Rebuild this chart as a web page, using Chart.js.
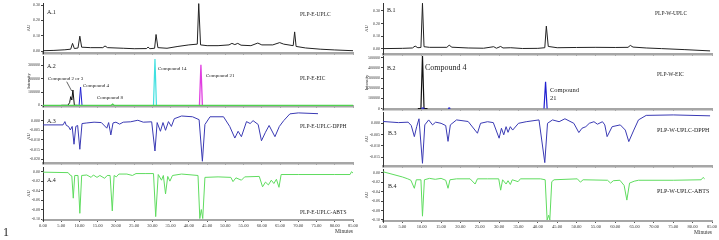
<!DOCTYPE html>
<html>
<head>
<meta charset="utf-8">
<script src="https://cdn.jsdelivr.net/npm/chart.js@4.4.0/dist/chart.umd.min.js"></script>
<style>
body { margin: 0; width: 719px; height: 240px; overflow: hidden; background: #fff; position: relative; }
canvas { position: absolute; }
</style>
</head>
<body>
<script>
// x axis (minutes) shared by every panel
const xTicks = [0, 5, 10, 15, 20, 25, 30, 35, 40, 45, 50, 55, 60, 65, 70, 75, 80, 85];

// y tick values per panel
const a1Ticks = [0, 0.1, 0.2, 0.3];
const a2Ticks = [0, 100000, 200000, 300000];
const a3Ticks = [0, -0.005, -0.01, -0.015, -0.02];
const a4Ticks = [0, -0.02, -0.04, -0.06, -0.08, -0.1];
const b1Ticks = [0, 0.1, 0.2, 0.3];
const b2Ticks = [0, 100000, 200000, 300000, 400000, 500000];
const b3Ticks = [0, -0.005, -0.01, -0.015];
const b4Ticks = [0, -0.02, -0.04, -0.06, -0.08, -0.1];

// traces as [minute, value] pairs
const a1Uplc = [[0,0.002],[3,0.004],[6,0.008],[7.6,0.012],[8.1,0.05],[8.6,0.016],[9.6,0.02],[10.1,0.097],[10.6,0.025],
  [13,0.022],[16.4,0.022],[17,0.033],[17.7,0.022],[22,0.018],[25,0.015],[28.4,0.016],[28.8,0.026],[29.3,0.015],
  [30.6,0.018],[31,0.108],[31.5,0.022],[34,0.018],[37,0.03],[40,0.04],[42.3,0.045],[42.7,0.31],[43.2,0.04],
  [45,0.035],[48,0.035],[51,0.04],[51.8,0.05],[52.6,0.042],[53.4,0.05],[54.3,0.038],[57,0.035],[58.9,0.052],
  [60,0.04],[63,0.04],[64.9,0.055],[66,0.045],[68.6,0.035],[69,0.125],[69.4,0.03],[72,0.02],[76,0.012],[80,0.007],[85,0.002]];

const a2Black = [[5,0],[6.8,0],[7.3,20000],[7.6,65000],[7.9,40000],[8.2,115000],[8.6,0],[9.5,0]];
const a2Blue = [[9.9,0],[10.3,137000],[10.7,0]];
const a2Green = [[0,0],[18.7,0],[19.1,9000],[19.5,0],[85,0]];
const a2Cyan = [[30.3,0],[30.7,348000],[31.1,0]];
const a2Magenta = [[42.9,0],[43.3,305000],[43.7,0]];

const a3Dpph = [[0,-0.0022],[5.5,-0.0022],[6,-0.0005],[6.4,-0.0025],[7,-0.003],[7.5,-0.0048],[8,-0.003],[8.5,-0.0122],
  [9,-0.003],[9.5,-0.0025],[10.1,-0.0148],[10.7,-0.0015],[12,-0.0012],[14,-0.0008],[16,-0.001],[17.5,-0.0039],
  [18,-0.001],[18.6,-0.0074],[19.2,-0.0012],[20,-0.0008],[21,-0.0018],[22,-0.0008],[24,-0.0006],[26,0.0002],
  [27.5,-0.0008],[29.8,-0.0006],[30.7,-0.0157],[31.3,-0.001],[32.2,-0.0055],[32.9,-0.001],[33.6,-0.005],
  [34.4,-0.0005],[35.2,-0.003],[36,0.001],[38,0.0024],[41,0.002],[42.8,0.0005],[43.7,-0.021],[44.4,-0.002],
  [45.8,0.002],[49.5,0.002],[51.2,-0.003],[52.6,-0.009],[53.5,-0.0055],[54.4,-0.0083],[55.8,-0.0005],
  [56.8,-0.0015],[57.6,0],[59,-0.002],[59.9,-0.0104],[61,-0.006],[62,-0.0025],[63.6,-0.0083],[64.8,-0.003],
  [66,0],[67.7,0.0035],[70,0.004],[75.4,0.0036]];

const a4Abts = [[0,-0.001],[6.9,-0.002],[7.4,-0.007],[7.9,-0.009],[8.3,-0.056],[8.7,-0.008],[9.6,-0.008],[10.1,-0.088],
  [10.6,-0.008],[12,-0.007],[13.2,-0.012],[13.8,-0.007],[14.8,-0.012],[15.6,-0.008],[16.9,-0.014],[17.6,-0.008],
  [18.4,-0.008],[19,-0.083],[19.5,-0.008],[20.1,-0.011],[20.8,-0.005],[23,-0.005],[24.5,-0.008],[25.5,-0.004],
  [28,-0.004],[30.3,-0.004],[30.9,-0.095],[31.6,-0.006],[32.5,-0.018],[33,-0.008],[33.6,-0.047],[34.2,-0.01],
  [34.8,-0.02],[35.5,-0.008],[38,-0.005],[42.5,-0.008],[43,-0.099],[43.4,-0.08],[43.8,-0.099],[44.4,-0.012],
  [48,-0.011],[51.5,-0.012],[52.1,-0.021],[52.9,-0.013],[54.4,-0.018],[55.3,-0.011],[59.3,-0.01],[60.2,-0.032],
  [61,-0.022],[61.8,-0.028],[62.6,-0.018],[63.3,-0.025],[64,-0.016],[64.7,-0.033],[65.3,-0.006],[70,-0.006],
  [80,-0.006],[84.2,-0.006],[84.6,0],[85,-0.003]];

const b1Uplc = [[0,0.003],[5,0.005],[7.6,0.008],[8.3,0.023],[9,0.01],[9.8,0.012],[10.2,0.36],[10.6,0.018],[12,0.013],
  [16.5,0.013],[17.1,0.03],[17.8,0.014],[22,0.008],[26,0.006],[28.6,0.018],[29.3,0.006],[30.4,0.02],[31,0.008],
  [33,0.01],[36,0.004],[40,0.005],[41.8,0.01],[42.2,0.18],[42.7,0.02],[45,0.01],[50,0.012],[55,0.013],[60,0.012],
  [63.3,0.013],[63.9,0.028],[64.6,0.015],[68,0.008],[72,0.003],[78,-0.005],[84.5,-0.015]];

const b2Black = [[9,0],[9.8,0],[10.2,520000],[10.6,0],[11.5,0]];
const b2Blue = [[9.9,0],[10.3,5000],[10.7,0],[12,null],[16.8,0],[17.1,6000],[17.4,0],[30,null],[41.6,0],[42,264000],[42.4,0]];

const b3Dpph = [[0,0.0008],[4,0.0003],[6.5,0.0005],[7.3,-0.001],[8.1,-0.0059],[8.7,-0.0015],[9.3,0.002],[10.2,-0.0177],
  [10.8,-0.0007],[11.8,0.0015],[12.8,-0.0007],[13.6,0.0005],[15,0],[16.2,-0.001],[16.8,-0.008],[17.4,-0.0007],
  [19,0.0015],[22,0.0008],[24.4,-0.0044],[25.2,0],[27,0.0007],[28.5,0.0003],[30,-0.0066],[30.6,-0.0022],
  [31.2,-0.0051],[31.8,-0.0015],[32.3,-0.004],[32.9,-0.0015],[33.5,-0.003],[35,0],[37,0.0007],[40.3,0.0015],
  [41.8,-0.0174],[42.5,0],[43.8,0.0015],[45.5,0.0007],[47,0.002],[49.3,0],[50.6,-0.0041],[51.4,-0.0022],
  [52.4,-0.0015],[53.3,0],[54.5,0.0007],[55.4,-0.0004],[56.7,0.0007],[57.3,-0.0007],[57.9,-0.0059],[59.2,-0.0015],
  [61.3,-0.0007],[62.6,-0.003],[63.5,-0.0081],[64.8,-0.003],[66,0.0015],[68,0.0035],[75,0.0037],[84.5,0.0033]];

const b4Abts = [[0,0.002],[5,-0.009],[6.4,-0.013],[7.2,-0.016],[8.1,-0.033],[8.6,-0.015],[9.8,-0.015],[10.2,-0.092],
  [10.7,-0.015],[12,-0.012],[13.5,-0.014],[15,-0.012],[16.2,-0.016],[16.8,-0.033],[17.3,-0.015],[19,-0.013],
  [22.5,-0.013],[23.8,-0.024],[24.4,-0.013],[27,-0.013],[29.9,-0.013],[30.4,-0.037],[30.9,-0.015],[31.8,-0.024],
  [32.3,-0.017],[32.9,-0.025],[33.4,-0.015],[34.9,-0.019],[35.5,-0.013],[40.7,-0.013],[41.9,-0.015],[42.4,-0.1],
  [42.8,-0.09],[43.1,-0.1],[43.6,-0.019],[44.2,-0.015],[50.2,-0.013],[51,-0.02],[51.7,-0.015],[58,-0.016],
  [58.8,-0.022],[59.5,-0.017],[61.2,-0.016],[62.3,-0.027],[63,-0.058],[63.7,-0.022],[64.9,-0.018],[66,-0.016],
  [75,-0.016],[82.2,-0.015],[82.7,-0.01],[83.1,-0.013]];

const serif = '"Liberation Serif", "DejaVu Serif", serif';

// draws panel labels / annotations given in page pixels
const notesPlugin = {
  id: 'notes',
  afterDraw(chart, args, opts) {
    const ctx = chart.ctx;
    ctx.save();
    ctx.fillStyle = '#222';
    ctx.textBaseline = 'middle';
    (opts.texts || []).forEach(t => {
      ctx.font = `${t.size}px ${serif}`;
      ctx.textAlign = t.align || 'left';
      ctx.fillText(t.text, t.x - opts.left, t.y - opts.top);
    });
    ctx.strokeStyle = '#222';
    ctx.lineWidth = 0.7;
    (opts.lines || []).forEach(l => {
      ctx.beginPath();
      ctx.moveTo(l[0] - opts.left, l[1] - opts.top);
      ctx.lineTo(l[2] - opts.left, l[3] - opts.top);
      ctx.stroke();
    });
    ctx.restore();
  }
};

function panel(cfg) {
  const c = document.createElement('canvas');
  c.width = cfg.w;
  c.height = cfg.h;
  c.style.left = cfg.left + 'px';
  c.style.top = cfg.top + 'px';
  document.body.appendChild(c);

  new Chart(c, {
    type: 'line',
    data: {
      datasets: cfg.series.map(s => ({
        data: s.data.map(p => ({ x: p[0], y: p[1] })),
        borderColor: s.color,
        borderWidth: s.width || 1,
        pointRadius: 0,
        fill: false,
        tension: 0,
        spanGaps: false
      }))
    },
    options: {
      responsive: false,
      animation: false,
      layout: { padding: { left: cfg.padL, right: cfg.padR, top: 4, bottom: cfg.bottom ? 1 : 4 } },
      plugins: {
        legend: { display: false },
        tooltip: { enabled: false },
        notes: { left: cfg.left, top: cfg.top, texts: cfg.texts, lines: cfg.lines }
      },
      scales: {
        x: {
          type: 'linear',
          min: 0,
          max: 85,
          afterBuildTicks: s => { s.ticks = xTicks.map(v => ({ value: v })); },
          afterFit: s => { s.height = cfg.bottom ? 15 : 0; },
          grid: { display: cfg.bottom, drawOnChartArea: false, tickLength: 2, color: '#555' },
          border: { color: '#a6a6a6', width: cfg.bottom ? 2 : 2.5 },
          ticks: {
            display: cfg.bottom, autoSkip: false, maxRotation: 0, padding: 1, color: '#333',
            font: { family: serif, size: 4.5 },
            callback: v => v.toFixed(2)
          },
          title: { display: cfg.bottom, text: 'Minutes', align: 'end', color: '#333', padding: 0, font: { family: serif, size: 5.5 } }
        },
        y: {
          min: cfg.yMin,
          max: cfg.yMax,
          afterBuildTicks: s => { s.ticks = cfg.yTicks.map(v => ({ value: v })); },
          afterFit: s => { s.width = cfg.yw; },
          grid: { drawOnChartArea: false, tickLength: 2, color: '#444' },
          border: { color: '#333', width: 1 },
          ticks: {
            padding: 1, color: '#333', font: { family: serif, size: 4 },
            callback: v => v.toFixed(cfg.digits)
          },
          title: { display: true, text: cfg.yTitle, color: '#333', padding: 0, font: { family: serif, size: 4.5 } }
        }
      }
    },
    plugins: [notesPlugin]
  });
}

const leftCol = { left: 0, w: 370, padL: 26, yw: 17, padR: 17 };
const rightCol = { left: 340, w: 380, padL: 24, yw: 19, padR: 8 };

// ---- left column ----
panel(Object.assign({}, leftCol, {
  top: -1, h: 58, yMin: -0.013, yMax: 0.314, yTicks: a1Ticks, digits: 2, yTitle: 'AU',
  series: [{ data: a1Uplc, color: '#222' }],
  texts: [{ text: 'A.1', x: 47, y: 12.7, size: 6 }, { text: 'PLP-E-UPLC', x: 300, y: 15, size: 5.5 }]
}));

panel(Object.assign({}, leftCol, {
  top: 52, h: 58, yMin: -5000, yMax: 370000, yTicks: a2Ticks, digits: 0, yTitle: 'Intensity',
  series: [
    { data: a2Green, color: '#4fd24f', width: 1.2 },
    { data: a2Black, color: '#111' },
    { data: a2Blue, color: '#2020d0' },
    { data: a2Cyan, color: '#3fe0e0', width: 1.2 },
    { data: a2Magenta, color: '#e03ee0', width: 1.3 }
  ],
  texts: [
    { text: 'A.2', x: 47, y: 66.7, size: 6 },
    { text: 'Compound 2 or 3', x: 48, y: 78.3, size: 5 },
    { text: 'Compound 4', x: 83, y: 85.7, size: 5 },
    { text: 'Compound 8', x: 97, y: 97.7, size: 5 },
    { text: 'Compound 14', x: 158, y: 69, size: 5 },
    { text: 'Compound 21', x: 206, y: 75.7, size: 5 },
    { text: 'PLP-E-EIC', x: 300, y: 79, size: 5.5 }
  ],
  lines: [[66.7, 81.7, 71.7, 91]]
}));

panel(Object.assign({}, leftCol, {
  top: 106, h: 61, yMin: -0.0219, yMax: 0.0055, yTicks: a3Ticks, digits: 3, yTitle: 'AU',
  series: [{ data: a3Dpph, color: '#3a3ab4' }],
  texts: [{ text: 'A.3', x: 47, y: 121, size: 6 }, { text: 'PLP-E-UPLC-DPPH', x: 300, y: 126.7, size: 5.5 }]
}));

panel(Object.assign({}, leftCol, {
  top: 163, h: 73, bottom: true, yMin: -0.1021, yMax: 0.0099, yTicks: a4Ticks, digits: 2, yTitle: 'AU',
  series: [{ data: a4Abts, color: '#5fdc5f' }],
  texts: [
    { text: 'A.4', x: 47, y: 180, size: 6 },
    { text: 'PLP-E-UPLC-ABTS', x: 300, y: 212.7, size: 5.5 },
    { text: '1', x: 3, y: 233, size: 12 }
  ]
}));

// ---- right column ----
panel(Object.assign({}, rightCol, {
  top: -1, h: 59, yMin: -0.0394, yMax: 0.362, yTicks: b1Ticks, digits: 2, yTitle: 'AU',
  series: [{ data: b1Uplc, color: '#222' }],
  texts: [{ text: 'B.1', x: 387, y: 10.7, size: 6 }, { text: 'PLP-W-UPLC', x: 655, y: 14, size: 5.5 }]
}));

panel(Object.assign({}, rightCol, {
  top: 52, h: 61, yMin: -4900, yMax: 517000, yTicks: b2Ticks, digits: 0, yTitle: 'Intensity',
  series: [
    { data: b2Blue, color: '#2020d0', width: 1.2 },
    { data: b2Black, color: '#111', width: 1.2 }
  ],
  texts: [
    { text: 'B.2', x: 387, y: 68, size: 6 },
    { text: 'Compound 4', x: 425, y: 68.3, size: 8 },
    { text: 'Compound', x: 550, y: 90, size: 6.5 },
    { text: '21', x: 550, y: 98.3, size: 6.5 },
    { text: 'PLP-W-EIC', x: 657, y: 75, size: 5.5 }
  ]
}));

panel(Object.assign({}, rightCol, {
  top: 108, h: 62, yMin: -0.0189, yMax: 0.005, yTicks: b3Ticks, digits: 3, yTitle: 'AU',
  series: [{ data: b3Dpph, color: '#3a3ab4' }],
  texts: [{ text: 'B.3', x: 388, y: 133.3, size: 6 }, { text: 'PLP-W-UPLC-DPPH', x: 657, y: 130.7, size: 6 }]
}));

panel(Object.assign({}, rightCol, {
  top: 165, h: 72, bottom: true, yMin: -0.1022, yMax: 0.0078, yTicks: b4Ticks, digits: 2, yTitle: 'AU',
  series: [{ data: b4Abts, color: '#5fdc5f' }],
  texts: [{ text: 'B.4', x: 388, y: 186.7, size: 6 }, { text: 'PLP-W-UPLC-ABTS', x: 657, y: 191, size: 6 }]
}));
</script>
</body>
</html>
